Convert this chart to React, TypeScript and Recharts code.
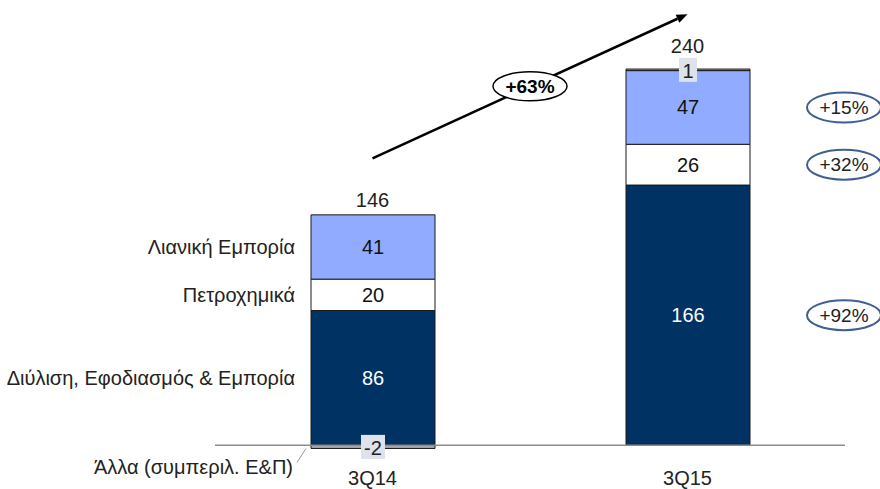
import React from 'react';
import { ComposedChart, Bar, Line, XAxis, YAxis, ReferenceLine, LabelList } from 'recharts';

const categories = ['3Q14', '3Q15'];
const refining = [86, 166];
const petchem = [20, 26];
const retail = [41, 47];
const other = [-2, 1];
const totals = [146, 240];
const seriesNames = {
  refining: 'Διύλιση, Εφοδιασμός & Εμπορία',
  petchem: 'Πετροχημικά',
  retail: 'Λιανική Εμπορία',
  other: 'Άλλα (συμπεριλ. Ε&Π)',
};
const seriesGrowth = { refining: '+92%', petchem: '+32%', retail: '+15%' };
const totalGrowth = '+63%';

const data = categories.map((c, i) => ({
  cat: c,
  refining: refining[i],
  petchem: petchem[i],
  retail: retail[i],
  other: other[i],
  total: totals[i],
  top: refining[i] + petchem[i] + retail[i] + Math.max(other[i], 0),
}));

const FONT = '"Liberation Sans", Arial, sans-serif';
const FS = 20;
const FS_E = 19;
const NAVY = '#003263';
const LIGHT = '#90abff';
const GRAY = '#a3a8b0';

function rectOf(p: any) {
  const vb = p.viewBox || {};
  const x = p.x ?? vb.x;
  const y = p.y ?? vb.y;
  const w = p.width ?? vb.width;
  const h = p.height ?? vb.height;
  const top = Math.min(y, y + h);
  const bottom = Math.max(y, y + h);
  return { x, w, top, bottom, cy: (top + bottom) / 2 };
}

function segLabel(key: string, textColor: string) {
  return (p: any) => {
    const { x, w, cy } = rectOf(p);
    const idx = p.index;
    const growth = (seriesGrowth as any)[key];
    return (
      <g>
        <text x={x + w / 2} y={cy} textAnchor="middle" dominantBaseline="central" fontSize={FS} fontFamily={FONT} fill={textColor}>
          {p.value}
        </text>
        {idx === 0 && (
          <text x={x - 16} y={cy} textAnchor="end" dominantBaseline="central" fontSize={FS} fontFamily={FONT} fill="#222">
            {(seriesNames as any)[key]}
          </text>
        )}
        {idx === 1 && growth && (
          <g>
            <ellipse cx={x + w + 94} cy={cy} rx={37} ry={15} fill="#fff" stroke="#3e5f91" strokeWidth={2} />
            <text x={x + w + 94} y={cy} textAnchor="middle" dominantBaseline="central" fontSize={FS_E} fontFamily={FONT} fill="#222">
              {growth}
            </text>
          </g>
        )}
      </g>
    );
  };
}

const otherLabel = (p: any) => {
  const { x, w, bottom, cy } = rectOf(p);
  const idx = p.index;
  const txt = String(p.value);
  const bw = txt.length > 1 ? 24 : 18;
  return (
    <g>
      <rect x={x + w / 2 - bw / 2} y={cy - 12} width={bw} height={24} fill="#dde2eb" />
      <text x={x + w / 2} y={cy + 1} textAnchor="middle" dominantBaseline="central" fontSize={FS} fontFamily={FONT} fill="#222">
        {txt}
      </text>
      {idx === 0 && (
        <g>
          <line x1={x - 14} y1={bottom + 14} x2={x - 5} y2={bottom} stroke="#999" strokeWidth={1} />
          <text x={x - 18} y={bottom + 19} textAnchor="end" dominantBaseline="central" fontSize={FS} fontFamily={FONT} fill="#222">
            {seriesNames.other}
          </text>
        </g>
      )}
    </g>
  );
};

const totalLabel = (p: any) => {
  const idx = p.index;
  const lift = other[idx] > 0 ? 23 : 15;
  return (
    <text x={p.x} y={p.y - lift} textAnchor="middle" dominantBaseline="central" fontSize={FS} fontFamily={FONT} fill="#222">
      {totals[idx]}
    </text>
  );
};

const ArrowShape = (p: any) => {
  const { x1, y1, x2, y2 } = p;
  if ([x1, y1, x2, y2].some((v) => v == null || isNaN(v))) return null;
  const ang = Math.atan2(y2 - y1, x2 - x1);
  const L = 11;
  const Wd = 4.5;
  const bx = x2 - L * Math.cos(ang);
  const by = y2 - L * Math.sin(ang);
  const px = -Math.sin(ang) * Wd;
  const py = Math.cos(ang) * Wd;
  const mx = (x1 + x2) / 2;
  const my = (y1 + y2) / 2;
  return (
    <g>
      <line x1={x1} y1={y1} x2={bx} y2={by} stroke="#000" strokeWidth={2.5} />
      <polygon points={`${x2},${y2} ${bx + px},${by + py} ${bx - px},${by - py}`} fill="#000" />
      <ellipse cx={mx} cy={my} rx={37} ry={14.5} fill="#fff" stroke="#000" strokeWidth={1.5} />
      <text x={mx} y={my} textAnchor="middle" dominantBaseline="central" fontSize={FS_E} fontWeight="bold" fontFamily={FONT} fill="#000">
        {totalGrowth}
      </text>
    </g>
  );
};

export default function App() {
  const arrowSeg = [
    { x: categories[0], y: data[0].top + 36 },
    { x: categories[1], y: data[1].top + 35 },
  ];
  return (
    <div style={{ position: 'absolute', left: 0, top: 0, width: 880, height: 489, background: '#fff' }}>
      <ComposedChart
        width={880}
        height={489}
        data={data}
        stackOffset="sign"
        margin={{ top: 22, right: 35, left: 215, bottom: 0 }}
        barSize={124}
      >
        <XAxis
          dataKey="cat"
          axisLine={false}
          tickLine={false}
          height={28}
          tickMargin={4}
          tick={{ fontSize: FS, fill: '#222', fontFamily: FONT }}
        />
        <YAxis hide domain={[-10, 270]} allowDataOverflow />
        <ReferenceLine y={0} stroke="#8c8c8c" strokeWidth={1.5} />
        <Bar dataKey="refining" stackId="a" fill={NAVY} stroke="#1a1a1a" strokeWidth={1} isAnimationActive={false}>
          <LabelList dataKey="refining" content={segLabel('refining', '#fff')} />
        </Bar>
        <Bar dataKey="petchem" stackId="a" fill="#fff" stroke="#1a1a1a" strokeWidth={1} isAnimationActive={false}>
          <LabelList dataKey="petchem" content={segLabel('petchem', '#111')} />
        </Bar>
        <Bar dataKey="retail" stackId="a" fill={LIGHT} stroke="#1a1a1a" strokeWidth={1} isAnimationActive={false}>
          <LabelList dataKey="retail" content={segLabel('retail', '#111')} />
        </Bar>
        <Bar dataKey="other" stackId="a" fill={GRAY} stroke="#1a1a1a" strokeWidth={1} isAnimationActive={false}>
          <LabelList dataKey="other" content={otherLabel} />
        </Bar>
        <Line
          dataKey="top"
          stroke="none"
          dot={false}
          activeDot={false}
          legendType="none"
          isAnimationActive={false}
        >
          <LabelList dataKey="total" content={totalLabel} />
        </Line>
        <ReferenceLine segment={arrowSeg} ifOverflow="visible" shape={ArrowShape} />
      </ComposedChart>
    </div>
  );
}
